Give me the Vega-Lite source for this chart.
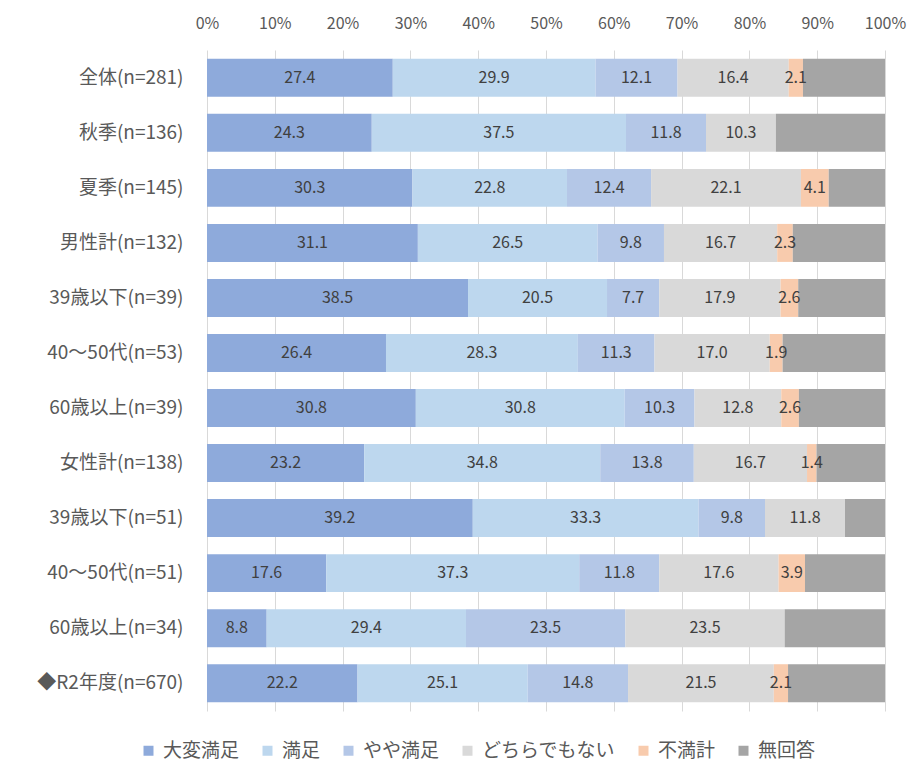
{
  "$schema": "https://vega.github.io/schema/vega-lite/v6.json",
  "width": 678,
  "height": 661,
  "autosize": {"type": "none"},
  "padding": {"left": 207, "top": 50, "right": 26, "bottom": 52},
  "background": "white",
  "config": {
    "font": "Noto Sans CJK JP",
    "view": {"stroke": null}
  },
  "data": {
    "values": [
      {"g": "全体(n=281)", "c": "大変満足", "o": 1, "v": 27.4},
      {"g": "全体(n=281)", "c": "満足", "o": 2, "v": 29.9},
      {"g": "全体(n=281)", "c": "やや満足", "o": 3, "v": 12.1},
      {"g": "全体(n=281)", "c": "どちらでもない", "o": 4, "v": 16.4},
      {"g": "全体(n=281)", "c": "不満計", "o": 5, "v": 2.1},
      {"g": "全体(n=281)", "c": "無回答", "o": 6, "v": 12.1},
      {"g": "秋季(n=136)", "c": "大変満足", "o": 1, "v": 24.3},
      {"g": "秋季(n=136)", "c": "満足", "o": 2, "v": 37.5},
      {"g": "秋季(n=136)", "c": "やや満足", "o": 3, "v": 11.8},
      {"g": "秋季(n=136)", "c": "どちらでもない", "o": 4, "v": 10.3},
      {"g": "秋季(n=136)", "c": "不満計", "o": 5, "v": 0},
      {"g": "秋季(n=136)", "c": "無回答", "o": 6, "v": 16.1},
      {"g": "夏季(n=145)", "c": "大変満足", "o": 1, "v": 30.3},
      {"g": "夏季(n=145)", "c": "満足", "o": 2, "v": 22.8},
      {"g": "夏季(n=145)", "c": "やや満足", "o": 3, "v": 12.4},
      {"g": "夏季(n=145)", "c": "どちらでもない", "o": 4, "v": 22.1},
      {"g": "夏季(n=145)", "c": "不満計", "o": 5, "v": 4.1},
      {"g": "夏季(n=145)", "c": "無回答", "o": 6, "v": 8.3},
      {"g": "男性計(n=132)", "c": "大変満足", "o": 1, "v": 31.1},
      {"g": "男性計(n=132)", "c": "満足", "o": 2, "v": 26.5},
      {"g": "男性計(n=132)", "c": "やや満足", "o": 3, "v": 9.8},
      {"g": "男性計(n=132)", "c": "どちらでもない", "o": 4, "v": 16.7},
      {"g": "男性計(n=132)", "c": "不満計", "o": 5, "v": 2.3},
      {"g": "男性計(n=132)", "c": "無回答", "o": 6, "v": 13.6},
      {"g": "39歳以下(n=39)", "c": "大変満足", "o": 1, "v": 38.5},
      {"g": "39歳以下(n=39)", "c": "満足", "o": 2, "v": 20.5},
      {"g": "39歳以下(n=39)", "c": "やや満足", "o": 3, "v": 7.7},
      {"g": "39歳以下(n=39)", "c": "どちらでもない", "o": 4, "v": 17.9},
      {"g": "39歳以下(n=39)", "c": "不満計", "o": 5, "v": 2.6},
      {"g": "39歳以下(n=39)", "c": "無回答", "o": 6, "v": 12.8},
      {"g": "40～50代(n=53)", "c": "大変満足", "o": 1, "v": 26.4},
      {"g": "40～50代(n=53)", "c": "満足", "o": 2, "v": 28.3},
      {"g": "40～50代(n=53)", "c": "やや満足", "o": 3, "v": 11.3},
      {"g": "40～50代(n=53)", "c": "どちらでもない", "o": 4, "v": 17.0},
      {"g": "40～50代(n=53)", "c": "不満計", "o": 5, "v": 1.9},
      {"g": "40～50代(n=53)", "c": "無回答", "o": 6, "v": 15.1},
      {"g": "60歳以上(n=39)", "c": "大変満足", "o": 1, "v": 30.8},
      {"g": "60歳以上(n=39)", "c": "満足", "o": 2, "v": 30.8},
      {"g": "60歳以上(n=39)", "c": "やや満足", "o": 3, "v": 10.3},
      {"g": "60歳以上(n=39)", "c": "どちらでもない", "o": 4, "v": 12.8},
      {"g": "60歳以上(n=39)", "c": "不満計", "o": 5, "v": 2.6},
      {"g": "60歳以上(n=39)", "c": "無回答", "o": 6, "v": 12.7},
      {"g": "女性計(n=138)", "c": "大変満足", "o": 1, "v": 23.2},
      {"g": "女性計(n=138)", "c": "満足", "o": 2, "v": 34.8},
      {"g": "女性計(n=138)", "c": "やや満足", "o": 3, "v": 13.8},
      {"g": "女性計(n=138)", "c": "どちらでもない", "o": 4, "v": 16.7},
      {"g": "女性計(n=138)", "c": "不満計", "o": 5, "v": 1.4},
      {"g": "女性計(n=138)", "c": "無回答", "o": 6, "v": 10.1},
      {"g": "39歳以下(n=51)", "c": "大変満足", "o": 1, "v": 39.2},
      {"g": "39歳以下(n=51)", "c": "満足", "o": 2, "v": 33.3},
      {"g": "39歳以下(n=51)", "c": "やや満足", "o": 3, "v": 9.8},
      {"g": "39歳以下(n=51)", "c": "どちらでもない", "o": 4, "v": 11.8},
      {"g": "39歳以下(n=51)", "c": "不満計", "o": 5, "v": 0},
      {"g": "39歳以下(n=51)", "c": "無回答", "o": 6, "v": 5.9},
      {"g": "40～50代(n=51)", "c": "大変満足", "o": 1, "v": 17.6},
      {"g": "40～50代(n=51)", "c": "満足", "o": 2, "v": 37.3},
      {"g": "40～50代(n=51)", "c": "やや満足", "o": 3, "v": 11.8},
      {"g": "40～50代(n=51)", "c": "どちらでもない", "o": 4, "v": 17.6},
      {"g": "40～50代(n=51)", "c": "不満計", "o": 5, "v": 3.9},
      {"g": "40～50代(n=51)", "c": "無回答", "o": 6, "v": 11.8},
      {"g": "60歳以上(n=34)", "c": "大変満足", "o": 1, "v": 8.8},
      {"g": "60歳以上(n=34)", "c": "満足", "o": 2, "v": 29.4},
      {"g": "60歳以上(n=34)", "c": "やや満足", "o": 3, "v": 23.5},
      {"g": "60歳以上(n=34)", "c": "どちらでもない", "o": 4, "v": 23.5},
      {"g": "60歳以上(n=34)", "c": "不満計", "o": 5, "v": 0},
      {"g": "60歳以上(n=34)", "c": "無回答", "o": 6, "v": 14.8},
      {"g": "◆R2年度(n=670)", "c": "大変満足", "o": 1, "v": 22.2},
      {"g": "◆R2年度(n=670)", "c": "満足", "o": 2, "v": 25.1},
      {"g": "◆R2年度(n=670)", "c": "やや満足", "o": 3, "v": 14.8},
      {"g": "◆R2年度(n=670)", "c": "どちらでもない", "o": 4, "v": 21.5},
      {"g": "◆R2年度(n=670)", "c": "不満計", "o": 5, "v": 2.1},
      {"g": "◆R2年度(n=670)", "c": "無回答", "o": 6, "v": 14.3}
    ]
  },
  "transform": [
    {"stack": "v", "groupby": ["g"], "sort": [{"field": "o", "order": "ascending"}], "as": ["s0", "s1"]},
    {"calculate": "(datum.s0 + datum.s1) / 2", "as": "mid"}
  ],
  "encoding": {
    "y": {
      "field": "g",
      "type": "nominal",
      "sort": ["全体(n=281)", "秋季(n=136)", "夏季(n=145)", "男性計(n=132)", "39歳以下(n=39)", "40～50代(n=53)", "60歳以上(n=39)", "女性計(n=138)", "39歳以下(n=51)", "40～50代(n=51)", "60歳以上(n=34)", "◆R2年度(n=670)"],
      "scale": {"paddingInner": 0.31, "paddingOuter": 0.16},
      "axis": {
        "title": null,
        "ticks": false,
        "domain": false,
        "labelFontSize": 19,
        "labelColor": "#595959",
        "labelPadding": 24,
        "labelLimit": 250
      }
    }
  },
  "layer": [
    {
      "mark": {"type": "bar"},
      "encoding": {
        "x": {
          "field": "s0",
          "type": "quantitative",
          "scale": {"domain": [0, 100], "nice": false},
          "axis": {
            "orient": "top",
            "title": null,
            "values": [0, 10, 20, 30, 40, 50, 60, 70, 80, 90, 100],
            "labelExpr": "datum.value + '%'",
            "labelFontSize": 16,
            "labelColor": "#595959",
            "labelPadding": 19,
            "labelFlush": false,
            "ticks": false,
            "domain": false,
            "grid": true,
            "gridColor": "#d9d9d9",
            "gridWidth": 1
          }
        },
        "x2": {"field": "s1"},
        "color": {
          "field": "c",
          "type": "nominal",
          "scale": {
            "domain": ["大変満足", "満足", "やや満足", "どちらでもない", "不満計", "無回答"],
            "range": ["#8eaadb", "#bdd7ee", "#b4c7e7", "#d9d9d9", "#f8cbad", "#a5a5a5"]
          },
          "legend": {
            "title": null,
            "orient": "none",
            "direction": "horizontal",
            "legendX": -68,
            "legendY": 691,
            "symbolType": "square",
            "symbolSize": 100,
            "symbolStrokeWidth": 0,
            "labelFontSize": 19,
            "labelColor": "#595959",
            "columnPadding": 18,
            "labelOffset": 5
          }
        }
      }
    },
    {
      "transform": [
        {"filter": "datum.c != '無回答' && datum.v > 0"}
      ],
      "mark": {"type": "text", "fontSize": 16, "color": "#404040", "align": "center", "baseline": "middle"},
      "encoding": {
        "x": {"field": "mid", "type": "quantitative"},
        "text": {"field": "v", "type": "quantitative", "format": ".1f"}
      }
    }
  ]
}
